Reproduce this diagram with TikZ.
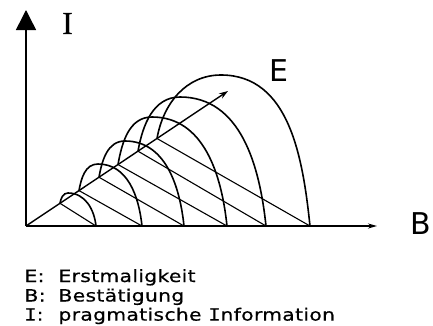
\documentclass[tikz,border=0pt]{standalone}
\usepackage{fontspec}
\setmainfont{DejaVu Sans}
\newfontfamily\legendfont[FakeStretch=1.2,LetterSpace=2,FakeBold=0.6]{DejaVu Sans}
\newfontfamily\legendIfont[FakeStretch=1.2,FakeBold=0.6]{DejaVu Sans Mono}
\newfontfamily\axisIfont[FakeBold=0.6]{Liberation Serif}
\usetikzlibrary{arrows.meta}

\tikzset{
  axis/.style={line width=1.5pt},
  arcline/.style={line width=1.6pt},
  hatch/.style={line width=1.1pt},
  axislabel/.style={inner sep=0pt,font=\fontsize{30}{30}\selectfont},
  legend/.style={inner sep=0pt,anchor=base west,font=\legendfont\fontsize{16.9}{20}\selectfont}
}

\begin{document}
\begin{tikzpicture}[x=1pt,y=1pt]
  \useasboundingbox (-26,-99) rectangle (407,226);
  % axes
  \coordinate (O) at (0,0);
  \coordinate (ytip) at (0,216);
  \coordinate (xtip) at (351,0);
  \draw[axis,-{Triangle[length=20pt,width=20pt]}] (O) -- (ytip);
  \draw[axis,-{Stealth[length=9pt,width=5pt]}] (O) -- (xtip);
  \node[axislabel,font=\axisIfont\fontsize{32}{32}\selectfont] (ylabel) at (41.5,202.5) {I};
  \node[axislabel] (xlabel) at (395,2) {B};
  % arcs and their chords
  \foreach \px/\qx/\tx/\ty in {34/70/42/33, 53/116/72/62, 73/158/99/85,
                               92/201/126/109, 112/240/154/129, 131/284/195/151} {
    \draw[hatch] (\px,{0.668*\px}) -- (\qx,0);
    \draw[arcline] (\px,{0.668*\px}) to[out=80,in=180] (\tx,\ty) to[out=0,in=96] (\qx,0);
  }
  % E direction
  \coordinate (etip) at (202,135);
  \draw[line width=1.4pt,-{Stealth[length=9pt,width=6pt]}] (O) -- (etip);
  \node[axislabel] (elabel) at (253,155) {E};
  % legend
  \node[legend] (legE) at (-1.7,-56) {E:};
  \node[legend] (txtE) at (32.3,-56) {Erstmaligkeit};
  \node[legend] (legB) at (-1.7,-75.5) {B:};
  \node[legend] (txtB) at (32.3,-75.5) {Bestätigung};
  \node[legend] (legI) at (-1.7,-94.6) {{\legendIfont I}:};
  \node[legend] (txtI) at (32.3,-94.6) {pragmatische {\legendIfont I}nformation};
\end{tikzpicture}
\end{document}
